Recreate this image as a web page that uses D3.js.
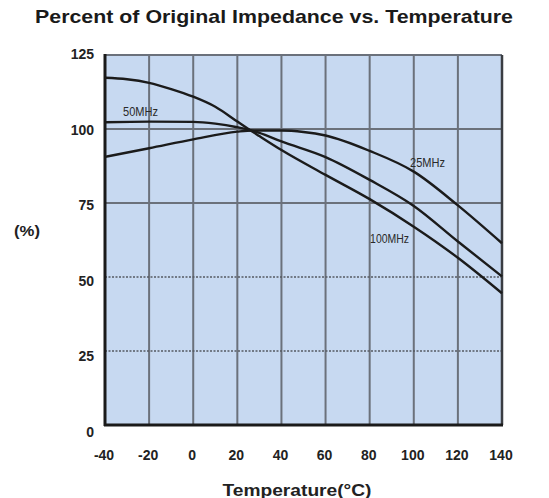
<!DOCTYPE html>
<html>
<head>
<meta charset="utf-8">
<script src="https://cdn.jsdelivr.net/npm/d3@7/dist/d3.min.js"></script>
<style>
  html, body { margin: 0; padding: 0; background: #fff; }
  svg { display: block; font-family: "Liberation Sans", Arial, sans-serif; }
</style>
</head>
<body>
<svg id="chart" width="549" height="498"></svg>
<script>
// ---- data ----
const title = "Percent of Original Impedance vs. Temperature";
const xTicks = [-40, -20, 0, 20, 40, 60, 80, 100, 120, 140];
const yTicks = [0, 25, 50, 75, 100, 125];
const solidY = [75, 100];
const dottedY = [25, 50];

const temp25 = [-40, -20, 0, 20, 27, 40, 50, 60, 80, 100, 120, 140];
const val25  = [90.6, 93.5, 96.5, 99.1, 99.5, 99.5, 99.0, 97.8, 92.6, 85.6, 74.2, 61.4];

const temp50 = [-40, -20, 0, 10, 20, 25, 30, 40, 60, 80, 100, 120, 140];
const val50  = [102.3, 102.5, 102.4, 101.8, 100.6, 99.8, 98.7, 95.8, 90.5, 82.8, 74.0, 62.0, 50.2];

const temp100 = [-40, -30, -20, -10, 0, 10, 20, 25, 30, 40, 60, 80, 100, 120, 140];
const val100  = [117.3, 116.8, 115.6, 113.5, 110.9, 107.5, 102.5, 100.0, 97.6, 92.9, 84.5, 76.3, 67.0, 56.5, 44.5];

const seriesNames = ["25MHz", "50MHz", "100MHz"];
// label anchor positions in data units (start x, baseline y)
const labelPos = [[98.3, 87.2], [-31.8, 104.4], [80.2, 61.5]];

// ---- layout ----
const svg = d3.select("#chart");
const L = 105, R = 502, T = 55, B = 425;
const x = d3.scaleLinear().domain([-40, 140]).range([L, R]);
const y = d3.scaleLinear().domain([0, 125]).range([B, T]);
const yLab = d3.scaleLinear().domain([0, 125]).range([432, 54]);

// background
svg.append("rect").attr("x", L).attr("y", T).attr("width", R - L).attr("height", B - T)
  .attr("fill", "#c7d9f1");

// vertical grid
svg.append("g").selectAll("line").data(xTicks.slice(1, -1)).join("line")
  .attr("x1", d => x(d)).attr("x2", d => x(d)).attr("y1", T).attr("y2", B)
  .attr("stroke", "#6b717b").attr("stroke-width", 2);

// horizontal grid
svg.append("g").selectAll("line").data(solidY).join("line")
  .attr("x1", L).attr("x2", R).attr("y1", d => y(d)).attr("y2", d => y(d))
  .attr("stroke", "#6b717b").attr("stroke-width", 2);
svg.append("g").selectAll("line").data(dottedY).join("line")
  .attr("x1", L).attr("x2", R).attr("y1", d => y(d)).attr("y2", d => y(d))
  .attr("stroke", "#555a62").attr("stroke-width", 1.5).attr("stroke-dasharray", "2,1.5");

// frame
svg.append("line").attr("x1", L).attr("x2", R).attr("y1", T).attr("y2", T)
  .attr("stroke", "#6b717b").attr("stroke-width", 2);
svg.append("line").attr("x1", R).attr("x2", R).attr("y1", T).attr("y2", B)
  .attr("stroke", "#3a3d42").attr("stroke-width", 2.5);
svg.append("line").attr("x1", L).attr("x2", L).attr("y1", T - 1).attr("y2", B + 1)
  .attr("stroke", "#1a1a1a").attr("stroke-width", 3);
svg.append("line").attr("x1", L - 1).attr("x2", R + 1).attr("y1", B).attr("y2", B)
  .attr("stroke", "#1a1a1a").attr("stroke-width", 3);

// curves
const line = d3.line().x(d => x(d[0])).y(d => y(d[1])).curve(d3.curveMonotoneX);
const series = [
  d3.zip(temp25, val25),
  d3.zip(temp50, val50),
  d3.zip(temp100, val100)
];
svg.append("g").selectAll("path").data(series).join("path")
  .attr("d", line).attr("fill", "none").attr("stroke", "#1b1b1b").attr("stroke-width", 2.4);

// series labels (condensed look)
svg.append("g").selectAll("text").data(seriesNames).join("text")
  .attr("x", (d, i) => x(labelPos[i][0])).attr("y", (d, i) => y(labelPos[i][1]))
  .attr("font-size", 13).attr("fill", "#2a2a2a")
  .attr("textLength", (d, i) => i === 2 ? 39 : 35).attr("lengthAdjust", "spacingAndGlyphs")
  .text(d => d);

// y tick labels
svg.append("g").selectAll("text").data(yTicks).join("text")
  .attr("x", 94).attr("y", d => yLab(d)).attr("dy", "0.36em")
  .attr("text-anchor", "end").attr("font-size", 14).attr("font-weight", "bold").attr("fill", "#222")
  .text(d => d);

// x tick labels
svg.append("g").selectAll("text").data(xTicks).join("text")
  .attr("x", d => x(d) - 1).attr("y", 455).attr("dy", "0.36em")
  .attr("text-anchor", "middle").attr("font-size", 14).attr("font-weight", "bold").attr("fill", "#222")
  .text(d => d);

// axis titles
svg.append("text").attr("x", 297).attr("y", 490).attr("dy", "0.36em")
  .attr("text-anchor", "middle").attr("font-size", 16).attr("font-weight", "bold").attr("fill", "#222")
  .attr("textLength", 149).attr("lengthAdjust", "spacingAndGlyphs")
  .text("Temperature(°C)");
svg.append("text").attr("x", 27).attr("y", 231).attr("dy", "0.36em")
  .attr("text-anchor", "middle").attr("font-size", 15).attr("font-weight", "bold").attr("fill", "#222")
  .attr("textLength", 26).attr("lengthAdjust", "spacingAndGlyphs")
  .text("(%)");

// title
svg.append("text").attr("x", 274).attr("y", 23)
  .attr("text-anchor", "middle").attr("font-size", 19).attr("font-weight", "bold").attr("fill", "#1a1a1a")
  .attr("textLength", 478).attr("lengthAdjust", "spacingAndGlyphs")
  .text(title);
</script>
</body>
</html>
